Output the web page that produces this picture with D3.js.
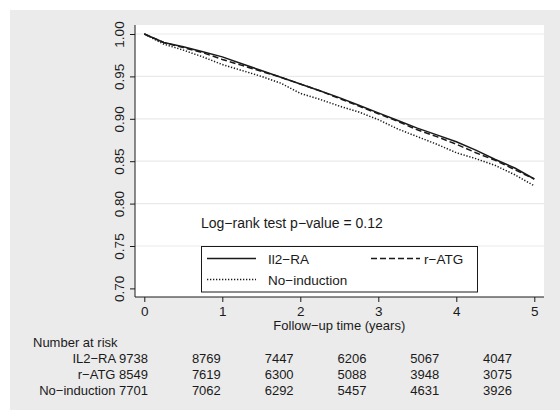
<!DOCTYPE html>
<html>
<head>
<meta charset="utf-8">
<script src="https://d3js.org/d3.v7.min.js"></script>
<style>
  body { margin: 0; }
  svg text { font-family: "Liberation Sans", Arial, sans-serif; fill: #1a1a1a; }
</style>
</head>
<body>
<div id="chart"></div>
<script>
// survival estimates, every quarter year
var times = [0, 0.25, 0.5, 0.75, 1, 1.25, 1.5, 1.75, 2, 2.25, 2.5, 2.75, 3, 3.25, 3.5, 3.75, 4, 4.25, 4.5, 4.75, 5];
var il2ra = [1.000, 0.990, 0.985, 0.979, 0.973, 0.965, 0.957, 0.949, 0.941, 0.933, 0.925, 0.916, 0.907, 0.898, 0.889, 0.881, 0.873, 0.863, 0.852, 0.842, 0.829];
var ratg = [1.000, 0.990, 0.984, 0.978, 0.970, 0.963, 0.956, 0.949, 0.941, 0.933, 0.924, 0.915, 0.906, 0.897, 0.887, 0.879, 0.870, 0.860, 0.851, 0.840, 0.829];
var noInd = [1.000, 0.988, 0.981, 0.973, 0.964, 0.957, 0.950, 0.942, 0.930, 0.923, 0.915, 0.908, 0.899, 0.888, 0.879, 0.870, 0.860, 0.853, 0.845, 0.834, 0.821];

var xTicks = [0, 1, 2, 3, 4, 5];
var yTicks = [0.70, 0.75, 0.80, 0.85, 0.90, 0.95, 1.00];

// number at risk table
var riskLabels = ["IL2\u2212RA", "r\u2212ATG", "No\u2212induction"];
var riskCounts = [
  [9738, 8769, 7447, 6206, 5067, 4047],
  [8549, 7619, 6300, 5088, 3948, 3075],
  [7701, 7062, 6292, 5457, 4631, 3926]
];

var W = 560, H = 410;
var svg = d3.select("#chart").append("svg")
  .attr("width", W)
  .attr("height", H);

svg.append("rect").attr("width", W).attr("height", H).attr("fill", "#ffffff");
svg.append("rect").attr("x", 10).attr("y", 10).attr("width", W - 10).attr("height", H - 10).attr("fill", "#ebebeb");

var plot = {left: 135, right: 544, top: 25, bottom: 297};
svg.append("rect")
  .attr("x", plot.left).attr("y", plot.top)
  .attr("width", plot.right - plot.left).attr("height", plot.bottom - plot.top)
  .attr("fill", "#ffffff");

var x = d3.scaleLinear().domain([0, 5]).range([144.3, 534.3]);
var y = d3.scaleLinear().domain([0.70, 1.00]).range([288.4, 34]);

// grid
svg.selectAll("line.grid").data(yTicks.filter(function(d) { return d > 0.7; }))
  .enter().append("line").attr("class", "grid")
  .attr("x1", plot.left).attr("x2", plot.right)
  .attr("y1", function(d) { return y(d); })
  .attr("y2", function(d) { return y(d); })
  .attr("stroke", "#eaeaea").attr("stroke-width", 1.2);

// axes
var yAxis = d3.axisLeft(y).tickValues(yTicks).tickFormat(d3.format(".2f")).tickSize(5).tickSizeOuter(0);
var gy = svg.append("g").attr("transform", "translate(" + plot.left + ",0)").call(yAxis);
gy.select(".domain").attr("d", "M0," + plot.top + "V" + plot.bottom).attr("stroke", "#1a1a1a");
gy.selectAll(".tick line").attr("stroke", "#1a1a1a");
gy.selectAll(".tick text")
  .attr("font-size", 13.5)
  .attr("x", 0).attr("y", 0).attr("dy", 0)
  .attr("text-anchor", "middle")
  .attr("transform", "translate(-11,0) rotate(-90)");

var xAxis = d3.axisBottom(x).tickValues(xTicks).tickFormat(d3.format("d")).tickSize(5).tickSizeOuter(0);
var gx = svg.append("g").attr("transform", "translate(0," + plot.bottom + ")").call(xAxis);
gx.select(".domain").attr("d", "M" + plot.left + ",0H" + plot.right).attr("stroke", "#1a1a1a");
gx.selectAll(".tick line").attr("stroke", "#1a1a1a");
gx.selectAll(".tick text").attr("font-size", 13.5).attr("y", 19).attr("dy", 0);
svg.selectAll(".tick text").attr("fill", "#1a1a1a").attr("font-family", "Liberation Sans, Arial, sans-serif");

svg.append("text")
  .attr("x", (x(0) + x(5)) / 2).attr("y", 330)
  .attr("text-anchor", "middle").attr("font-size", 13)
  .text("Follow\u2212up time (years)");

// curves
var series = [
  {values: il2ra, dash: null},
  {values: ratg, dash: "6,3"},
  {values: noInd, dash: "1.3,1.7"}
];
var line = d3.line()
  .x(function(d, i) { return x(times[i]); })
  .y(function(d) { return y(d); });

svg.selectAll("path.curve").data(series.slice().reverse())
  .enter().append("path").attr("class", "curve")
  .attr("d", function(s) { return line(s.values); })
  .attr("fill", "none")
  .attr("stroke", "#1a1a1a")
  .attr("stroke-width", 1.5)
  .attr("stroke-dasharray", function(s) { return s.dash; });

svg.append("text")
  .attr("x", 201).attr("y", 228)
  .attr("font-size", 14)
  .text("Log\u2212rank test p\u2212value = 0.12");

// legend
svg.append("rect")
  .attr("x", 201.5).attr("y", 246.5).attr("width", 276).attr("height", 45.5)
  .attr("fill", "#ffffff").attr("stroke", "#1a1a1a").attr("stroke-width", 1);

var legendItems = [
  {label: "Il2\u2212RA", dash: null, lx: 207, tx: 268, ly: 258.5},
  {label: "r\u2212ATG", dash: "6,3", lx: 371, tx: 424, ly: 258.5},
  {label: "No\u2212induction", dash: "1.3,1.7", lx: 207, tx: 268, ly: 279.5}
];
legendItems.forEach(function(d) {
  svg.append("line")
    .attr("x1", d.lx).attr("x2", d.lx + 49)
    .attr("y1", d.ly).attr("y2", d.ly)
    .attr("stroke", "#1a1a1a").attr("stroke-width", 1.3)
    .attr("stroke-dasharray", d.dash);
  svg.append("text")
    .attr("x", d.tx).attr("y", d.ly + 5)
    .attr("font-size", 13.5)
    .text(d.label);
});

// number at risk
svg.append("text").attr("x", 33).attr("y", 347).attr("font-size", 13).text("Number at risk");
var col = d3.scaleLinear().domain([0, 5]).range([148, 512]);
riskCounts.forEach(function(row, r) {
  var yy = 363 + r * 16;
  svg.append("text").attr("x", col(0)).attr("y", yy)
    .attr("text-anchor", "end").attr("font-size", 13)
    .text(riskLabels[r] + " " + row[0]);
  svg.selectAll("text.risk" + r).data(row.slice(1))
    .enter().append("text").attr("class", "risk" + r)
    .attr("x", function(d, i) { return col(i + 1); })
    .attr("y", yy)
    .attr("text-anchor", "end").attr("font-size", 13)
    .text(function(d) { return d; });
});
</script>
</body>
</html>
